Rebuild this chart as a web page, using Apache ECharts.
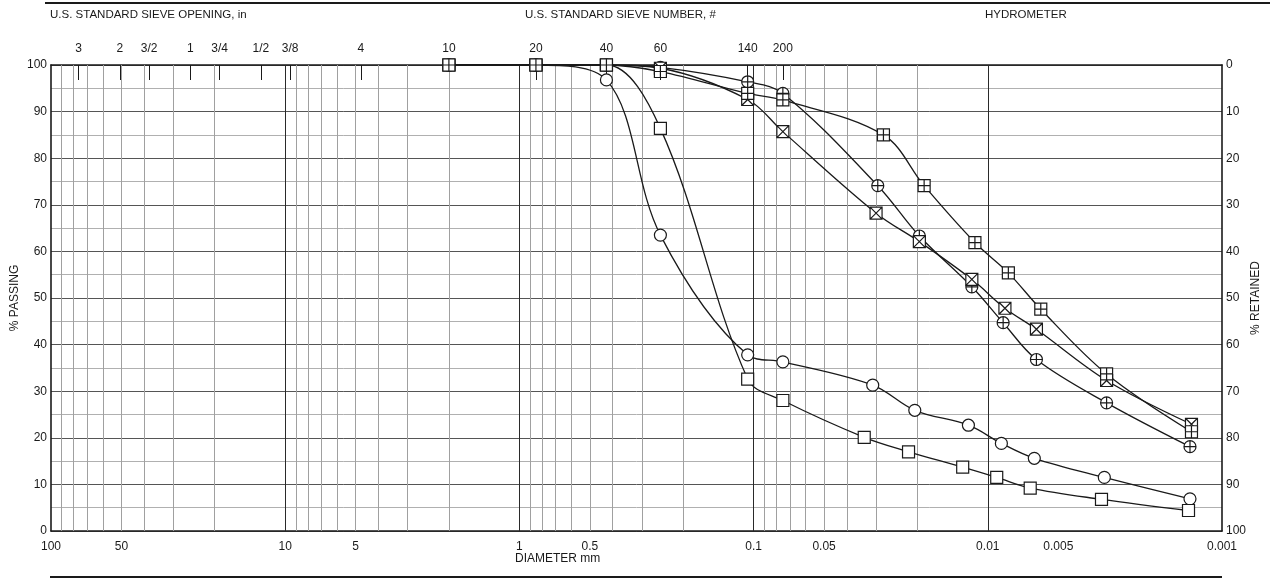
<!DOCTYPE html>
<html>
<head>
<meta charset="utf-8">
<script src="https://cdn.jsdelivr.net/npm/echarts@6.0.0/dist/echarts.min.js"></script>
<style>
  html, body { margin: 0; padding: 0; background: #fff; }
  #main { width: 1270px; height: 584px; }
</style>
</head>
<body>
<div id="main"></div>
<script>
// sieve openings (mm) and their names on the top axis
const sieveSizes = [76.2, 50.8, 38.1, 25.4, 19.05, 12.7, 9.525, 4.75, 2.0, 0.85, 0.425, 0.25, 0.106, 0.075];
const sieveLabels = ['3', '2', '3/2', '1', '3/4', '1/2', '3/8', '4', '10', '20', '40', '60', '140', '200'];
// diameter labels on the bottom axis
const diameterTicks = [100, 50, 10, 5, 1, 0.5, 0.1, 0.05, 0.01, 0.005, 0.001];

// samples: diameter (mm) / % passing
const circleD = [2.0, 0.85, 0.425, 0.25, 0.106, 0.075, 0.031, 0.0205, 0.0121, 0.00875, 0.00633, 0.00318, 0.00137];
const circleP = [100, 100, 96.8, 63.5, 37.8, 36.3, 31.3, 25.9, 22.7, 18.8, 15.6, 11.5, 6.9];

const squareD = [2.0, 0.85, 0.425, 0.25, 0.106, 0.075, 0.0337, 0.0218, 0.0128, 0.00916, 0.00659, 0.00327, 0.00139];
const squareP = [100, 100, 100, 86.4, 32.6, 28.0, 20.1, 17.0, 13.7, 11.5, 9.2, 6.8, 4.4];

const circlePlusD = [2.0, 0.85, 0.425, 0.25, 0.106, 0.075, 0.0295, 0.0196, 0.0117, 0.0086, 0.0062, 0.00311, 0.00137];
const circlePlusP = [100, 100, 100, 99.5, 96.4, 93.9, 74.1, 63.3, 52.4, 44.7, 36.8, 27.5, 18.1];

const squareXD = [2.0, 0.85, 0.425, 0.25, 0.106, 0.075, 0.030, 0.0196, 0.0117, 0.00845, 0.0062, 0.00311, 0.00135];
const squareXP = [100, 100, 100, 99.3, 92.6, 85.7, 68.2, 62.1, 54.0, 47.8, 43.3, 32.3, 22.9];

const squarePlusD = [2.0, 0.85, 0.425, 0.25, 0.106, 0.075, 0.0279, 0.0187, 0.01135, 0.00817, 0.00594, 0.00311, 0.00135];
const squarePlusP = [100, 100, 100, 98.6, 93.9, 92.5, 85.0, 74.1, 61.9, 55.4, 47.6, 33.7, 21.3];

const FONT = "'Liberation Sans', Arial, sans-serif";
const INK = '#1a1a1a';

const SYM_SQUARE_X = 'path://M0,0L12,0L12,12L0,12Z M0,0L12,12 M12,0L0,12';
const SYM_SQUARE_PLUS = 'path://M0,0L12,0L12,12L0,12Z M6,0L6,12 M0,6L12,6';
const SYM_CIRCLE_PLUS = 'path://M12,6A6,6,0,1,1,0,6A6,6,0,1,1,12,6Z M6,0L6,12 M0,6L12,6';

function zip(d, p) {
  return d.map((v, i) => [v, p[i]]);
}

// log grid lines 1..9 per decade
const vLines = [];
for (let e = -3; e <= 1; e++) {
  for (let k = 1; k <= 9; k++) {
    const v = k * Math.pow(10, e);
    if (v <= 0.001 || v >= 100) continue;
    vLines.push({
      xAxis: v,
      lineStyle: k === 1
        ? { color: '#2a2a2a', width: 1, type: 'solid' }
        : { color: '#a0a0a0', width: 1, type: 'solid' }
    });
  }
}

function sampleSeries(name, d, p, symbol, size) {
  return {
    name: name,
    type: 'line',
    data: zip(d, p),
    smooth: 0.35,
    symbol: symbol,
    symbolSize: size,
    showAllSymbol: true,
    z: 5,
    lineStyle: { color: INK, width: 1.3 },
    itemStyle: { color: '#fff', borderColor: INK, borderWidth: 1.2 },
    emphasis: { disabled: true }
  };
}

const chart = echarts.init(document.getElementById('main'));

const option = {
  animation: false,
  backgroundColor: '#fff',
  textStyle: { fontFamily: FONT },
  grid: {
    left: 51, right: 48, top: 65, bottom: 53,
    containLabel: false,
    outerBoundsMode: 'none'
  },
  xAxis: [
    {
      type: 'log',
      min: 0.001,
      max: 100,
      inverse: true,
      position: 'bottom',
      axisLine: { show: true, lineStyle: { color: INK, width: 1.6 } },
      axisTick: { show: false },
      splitLine: { show: false },
      axisLabel: {
        customValues: diameterTicks,
        color: INK,
        fontSize: 12,
        fontFamily: FONT,
        margin: 10,
        formatter: v => String(+v.toPrecision(6))
      }
    },
    {
      type: 'log',
      min: 0.001,
      max: 100,
      inverse: true,
      position: 'top',
      axisLine: { show: true, lineStyle: { color: INK, width: 1.6 } },
      axisTick: {
        show: true,
        inside: true,
        length: 15,
        customValues: sieveSizes,
        lineStyle: { color: INK, width: 1 }
      },
      splitLine: { show: false },
      axisLabel: {
        customValues: sieveSizes,
        color: INK,
        fontSize: 12,
        fontFamily: FONT,
        margin: 10,
        formatter: v => {
          const i = sieveSizes.findIndex(s => Math.abs(s - v) / s < 1e-6);
          return i >= 0 ? sieveLabels[i] : '';
        }
      }
    }
  ],
  yAxis: [
    {
      type: 'value',
      min: 0,
      max: 100,
      interval: 10,
      position: 'left',
      name: '% PASSING',
      nameLocation: 'middle',
      nameRotate: 90,
      nameGap: 30,
      nameMoveOverlap: false,
      nameTextStyle: { color: INK, fontSize: 12, fontFamily: FONT },
      axisLine: { show: true, lineStyle: { color: INK, width: 1.6 } },
      axisTick: { show: false },
      axisLabel: { color: INK, fontSize: 12, fontFamily: FONT, margin: 4 },
      splitLine: { show: true, lineStyle: { color: '#555', width: 1 } },
      minorTick: { show: false, splitNumber: 2 },
      minorSplitLine: { show: true, lineStyle: { color: '#b0b0b0', width: 1 } }
    },
    {
      type: 'value',
      min: 0,
      max: 100,
      interval: 10,
      inverse: true,
      position: 'right',
      name: '% RETAINED',
      nameLocation: 'middle',
      nameRotate: 90,
      nameGap: 28,
      nameMoveOverlap: false,
      nameTextStyle: { color: INK, fontSize: 12, fontFamily: FONT },
      axisLine: { show: true, lineStyle: { color: INK, width: 1.6 } },
      axisTick: { show: false },
      axisLabel: { color: INK, fontSize: 12, fontFamily: FONT, margin: 4 },
      splitLine: { show: false }
    }
  ],
  graphic: [
    { type: 'line', shape: { x1: 45, y1: 3, x2: 1270, y2: 3 }, style: { stroke: INK, lineWidth: 2 }, silent: true },
    { type: 'line', shape: { x1: 50, y1: 577, x2: 1222, y2: 577 }, style: { stroke: INK, lineWidth: 2 }, silent: true },
    { type: 'text', left: 50, top: 9, style: { text: 'U.S. STANDARD SIEVE OPENING, in', fill: INK, font: '11.5px ' + FONT }, silent: true },
    { type: 'text', left: 525, top: 9, style: { text: 'U.S. STANDARD SIEVE NUMBER, #', fill: INK, font: '11.5px ' + FONT }, silent: true },
    { type: 'text', left: 985, top: 9, style: { text: 'HYDROMETER', fill: INK, font: '11.5px ' + FONT }, silent: true },
    { type: 'text', left: 515, top: 553, style: { text: 'DIAMETER mm', fill: INK, font: '12px ' + FONT }, silent: true }
  ],
  series: [
    {
      name: 'grid',
      type: 'scatter',
      data: [],
      z: 1,
      silent: true,
      markLine: {
        silent: true,
        symbol: ['none', 'none'],
        label: { show: false },
        emphasis: { disabled: true },
        animation: false,
        data: vLines
      }
    },
    sampleSeries('circle', circleD, circleP, 'circle', 12),
    sampleSeries('square', squareD, squareP, 'rect', 12),
    sampleSeries('circlePlus', circlePlusD, circlePlusP, SYM_CIRCLE_PLUS, 12),
    sampleSeries('squareX', squareXD, squareXP, SYM_SQUARE_X, 12),
    sampleSeries('squarePlus', squarePlusD, squarePlusP, SYM_SQUARE_PLUS, 12)
  ]
};

chart.setOption(option);
</script>
</body>
</html>
